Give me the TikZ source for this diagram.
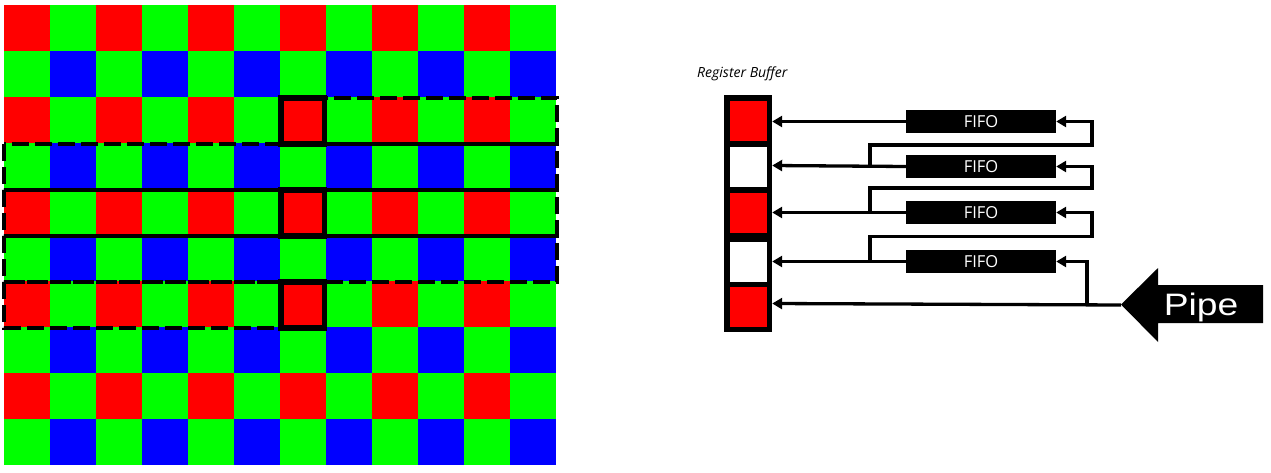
\documentclass[tikz,border=0pt]{standalone}
\usepackage{fontspec}
\newfontfamily\osans{Open Sans}
\newfontfamily\lsans{Liberation Sans}
\usetikzlibrary{arrows.meta}
\definecolor{bR}{RGB}{255,0,0}
\definecolor{bG}{RGB}{0,255,0}
\definecolor{bB}{RGB}{0,0,255}
\tikzset{
  dashbox/.style={draw=black, line width=4.8pt, dash pattern=on 17pt off 6pt},
  solidbox/.style={draw=black, line width=5.5pt},
  fifo/.style={fill=black, text=white, minimum width=150pt, minimum height=23pt, inner sep=0pt, font=\osans\fontsize{16.5}{16.5}\selectfont},
  cell/.style={minimum width=37pt, minimum height=40pt, inner sep=0pt},
  conn/.style={line width=3.3pt, draw=black},
  arr/.style={conn, -{Triangle[length=10pt,width=11pt]}},
}
\begin{document}
\begin{tikzpicture}[x=1pt,y=-1pt]
\useasboundingbox (0,0) rectangle (1271,473);
% Bayer grid
\foreach \r in {0,...,9}{
  \foreach \c in {0,...,11}{
    \pgfmathtruncatemacro{\re}{mod(\r,2)}
    \pgfmathtruncatemacro{\ce}{mod(\c,2)}
    \ifnum\re=0
      \ifnum\ce=0 \def\col{bR}\else\def\col{bG}\fi
    \else
      \ifnum\ce=0 \def\col{bG}\else\def\col{bB}\fi
    \fi
    \fill[\col] ({4+46*\c},{5+46*\r}) rectangle ({4+46*(\c+1)},{5+46*(\r+1)});
  }
}
% dashed windows
\draw[dashbox] (280,98) rectangle (557,144);
\draw[dashbox] (4,144) rectangle (557,190);
\draw[dashbox] (4,190) rectangle (557,236);
\draw[dashbox] (4,236) rectangle (557,282);
\draw[dashbox] (4,282) rectangle (325,328);
% solid boxes
\draw[solidbox] (281,98) rectangle (324.5,144);
\draw[solidbox] (281,190) rectangle (324.5,236);
\draw[solidbox] (281,282) rectangle (324.5,328);

% Register buffer
\node[anchor=base west, inner sep=0pt, font=\osans\itshape\fontsize{14}{14}\selectfont] (title) at (697,78) {Register Buffer};
\node[fill=black, minimum width=48pt, minimum height=237pt, inner sep=0pt] (reg) at (748,213.5) {};
\node[cell, fill=bR] (c1) at (748.5,121) {};
\node[cell, fill=white] (c2) at (748.5,167.5) {};
\node[cell, fill=bR] (c3) at (748.5,213) {};
\node[cell, fill=white] (c4) at (748.5,261.5) {};
\node[cell, fill=bR] (c5) at (748.5,306.5) {};

% FIFOs
\node[fifo] (f1) at (981,121.5) {FIFO};
\node[fifo] (f2) at (981,166.5) {FIFO};
\node[fifo] (f3) at (981,212.5) {FIFO};
\node[fifo] (f4) at (981,261.5) {FIFO};

% Pipe arrow
\fill[black] (1121,304.5) -- (1158,268) -- (1158,285) -- (1263,285) -- (1263,323) -- (1158,323) -- (1158,342) -- cycle;
\coordinate (pipetip) at (1121,305);
\node[text=white, inner sep=0pt, anchor=base, xscale=1.2, font=\lsans\fontsize{31}{31}\selectfont] (pipe) at (1201,315) {Pipe};

% outputs to register
\draw[arr] (f1.west) -- (f1.west -| reg.east);
\draw[arr] (f2.west) -- ([yshift=1pt]f2.west -| reg.east);
\draw[arr] (f3.west) -- (f3.west -| reg.east);
\draw[arr] (f4.west) -- (f4.west -| reg.east);
\draw[arr] (pipetip) -- ([yshift=1.5pt]pipetip -| reg.east);

% feedback chain
\coordinate (j1) at (870,166.8);
\coordinate (j2) at (870,212.8);
\coordinate (j3) at (870,261.8);
\coordinate (j4) at (1087,305);
\draw[arr] (j1) |- (1092,145) |- (f1.east);
\draw[arr] (j2) |- (1092,188) |- (f2.east);
\draw[arr] (j3) |- (1092,236.5) |- (f3.east);
\draw[arr] (j4) |- (f4.east);
\end{tikzpicture}
\end{document}
